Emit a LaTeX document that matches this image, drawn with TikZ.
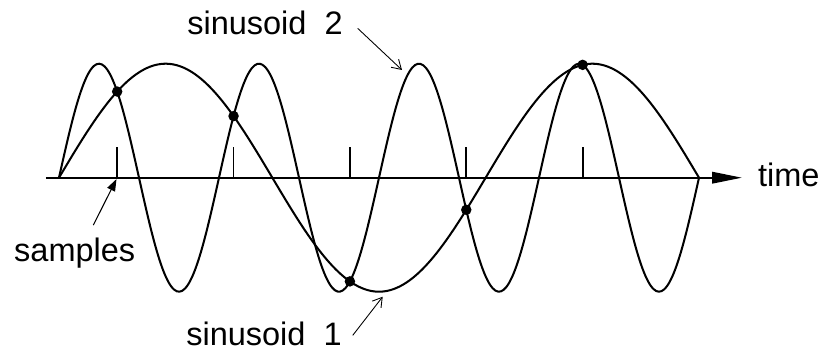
\documentclass[tikz,border=0pt]{standalone}
\usepackage{fontspec}
\setmainfont{Liberation Sans}
\usetikzlibrary{arrows.meta, positioning}

\begin{document}
\begin{tikzpicture}[x=0.2mm, y=0.2mm, >=Stealth, line width=1.15pt]
\tikzstyle{every node}=[font=\fontsize{18.5}{22}\selectfont, inner sep=0pt]
\tikzstyle{wave}=[line width=1.15pt, samples=240, smooth]
\tikzstyle{dot}=[circle, fill=black, minimum size=2.1mm]
\tikzstyle{pointer}=[line width=0.5pt, -{Straight Barb[length=1.8mm, width=2.2mm]}]

\useasboundingbox (-59,-176.3) rectangle (766,177.7);

% time axis
\coordinate (o) at (-13,0);
\coordinate (e) at (683,0);
\draw[-{Triangle[length=6mm, width=2.3mm]}] (o) -- (e);
\node (time) [anchor=base west] at (698,-9.3) {time};

% sample instants t = (2k+1)/11
\foreach \k in {0,...,4} {
  \pgfmathsetmacro{\tx}{640*(2*\k+1)/11}
  \coordinate (t\k) at (\tx,0);
  \draw[line width=1pt] (t\k) -- ++(0,31);
}

\draw[wave] plot[domain=0:640] (\x, {114*sin(0.84375*\x)});
\draw[wave] plot[domain=0:640] (\x, {114*sin(2.25*\x)});

\foreach \k in {0,...,4} {
  \pgfmathsetmacro{\tx}{640*(2*\k+1)/11}
  \node[dot] (s\k) at (\tx, {114*sin(0.84375*\tx)}) {};
}

% labels
\node (samples) [anchor=base] at (15.7,-84) {samples};
\node (sin1) [anchor=base] at (205,-167.3) {sinusoid\ \ 1};
\node (sin2) [anchor=base] at (206,142.7) {sinusoid\ \ 2};

\coordinate (c1) at (323.7,-119);
\coordinate (c2) at (343,107.7);

\draw[line width=0.6pt, -{Triangle[length=2.4mm, width=1.7mm]}, shorten >=0.3mm]
  ([shift={(18.6,12)}]samples.north) -- (t0);
\draw[pointer] ([shift={(10,-2)}]sin1.east) -- (c1);
\draw[pointer] ([shift={(14,-5)}]sin2.east) -- (c2);
\end{tikzpicture}
\end{document}
